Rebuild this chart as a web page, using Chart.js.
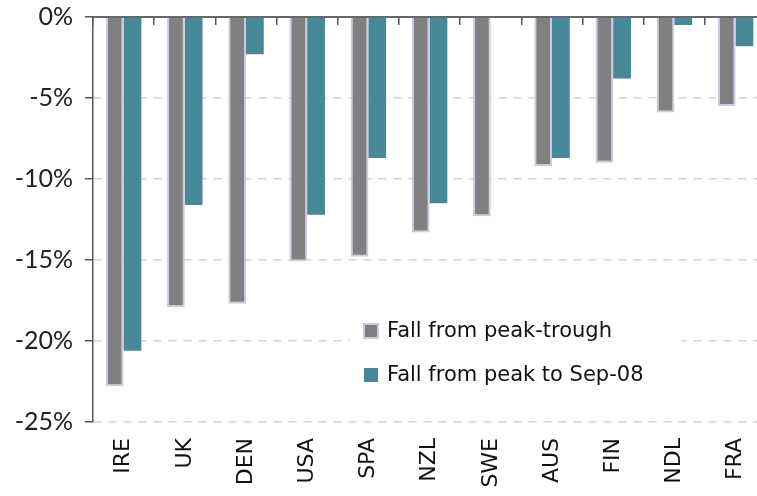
<!DOCTYPE html>
<html><head><meta charset="utf-8">
<script src="https://cdn.jsdelivr.net/npm/chart.js@4/dist/chart.umd.min.js"></script>
<style>
html,body{margin:0;padding:0;background:#fff;overflow:hidden;}
#wrap{position:relative;width:778px;height:496px;}
</style></head><body>
<div id="wrap"><canvas id="c"></canvas></div>
<script>
const categories = ['IRE','UK','DEN','USA','SPA','NZL','SWE','AUS','FIN','NDL','FRA'];
const peakTrough = [-22.8,-17.9,-17.7,-15.1,-14.8,-13.3,-12.3,-9.2,-9.0,-5.9,-5.5];
const peakToSep08 = [-20.6,-11.6,-2.3,-12.2,-8.7,-11.5,null,-8.7,-3.8,-0.5,-1.8];
const seriesNames = ['Fall from peak-trough','Fall from peak to Sep-08'];
const yMin = -25, yMax = 0, yStep = 5;

const inlineLegend = {
  id:'inlineLegend',
  afterDatasetsDraw(chart){
    const ctx = chart.ctx;
    const x0 = 364, y0 = 331, gap = 44;
    ctx.save();
    ctx.fillStyle = '#fff';
    ctx.fillRect(350, 312, 332, 86);
    ctx.font = '21px "DejaVu Sans"';
    ctx.textBaseline = 'middle';
    chart.data.datasets.forEach((ds,i)=>{
      const y = y0 + i*gap;
      ctx.fillStyle = ds.backgroundColor;
      ctx.fillRect(x0, y-7, 14, 14);
      if (ds.borderWidth) { ctx.strokeStyle = ds.borderColor; ctx.lineWidth = 2; ctx.strokeRect(x0, y-7, 14, 14); }
      ctx.fillStyle = '#111';
      ctx.fillText(ds.label, x0+23, y+1);
    });
    ctx.restore();
  }
};

function draw(){
new Chart(document.getElementById('c'), {
  type:'bar',
  data:{
    labels: categories,
    datasets:[
      {label: seriesNames[0], data: peakTrough, backgroundColor:'#808080', borderColor:'#cdc9e2', borderWidth:2, categoryPercentage:0.58, barPercentage:1},
      {label: seriesNames[1], data: peakToSep08, backgroundColor:'#478899', borderWidth:0, categoryPercentage:0.58, barPercentage:1}
    ]
  },
  options:{
    responsive:true, maintainAspectRatio:false, animation:false,
    layout:{padding:{top:0,right:0,left:0,bottom:0}},
    plugins:{legend:{display:false}, tooltip:{enabled:false}},
    scales:{
      x:{
        position:'bottom',
        grid:{display:false, drawTicks:false},
        border:{display:false},
        ticks:{autoSkip:false, minRotation:90, maxRotation:90, padding:16, color:'#111', font:{family:'DejaVu Sans', size:22}},
        afterFit(s){ s.height = 74; }
      },
      x2:{
        type:'category', labels: categories, position:{y:0}, offset:true,
        grid:{offset:true, drawOnChartArea:false, drawTicks:true, tickLength:7, color:'#555', lineWidth:1.5},
        border:{display:true, color:'#666', width:2},
        ticks:{display:false}
      },
      y:{
        min:yMin, max:yMax,
        ticks:{stepSize:yStep, padding:12, color:'#222', font:{family:'Lato', size:25, lineHeight:1}, callback:v=>v+'%'},
        grid:{color:'#d3d3d3', lineWidth:1.5, tickLength:8, tickColor:'#555', tickBorderDash:[], tickWidth:1.5},
        border:{display:true, color:'#555', width:1.5, dash:[8,7]},
        afterFit(s){ s.width = 93; s.paddingTop = 17; s.paddingBottom = 0; }
      }
    }
  },
  plugins:[inlineLegend]
});
}
Promise.all([
  document.fonts.load('25px Lato'),
  document.fonts.load('22px "DejaVu Sans"')
]).then(draw, draw);
</script>
</body></html>
